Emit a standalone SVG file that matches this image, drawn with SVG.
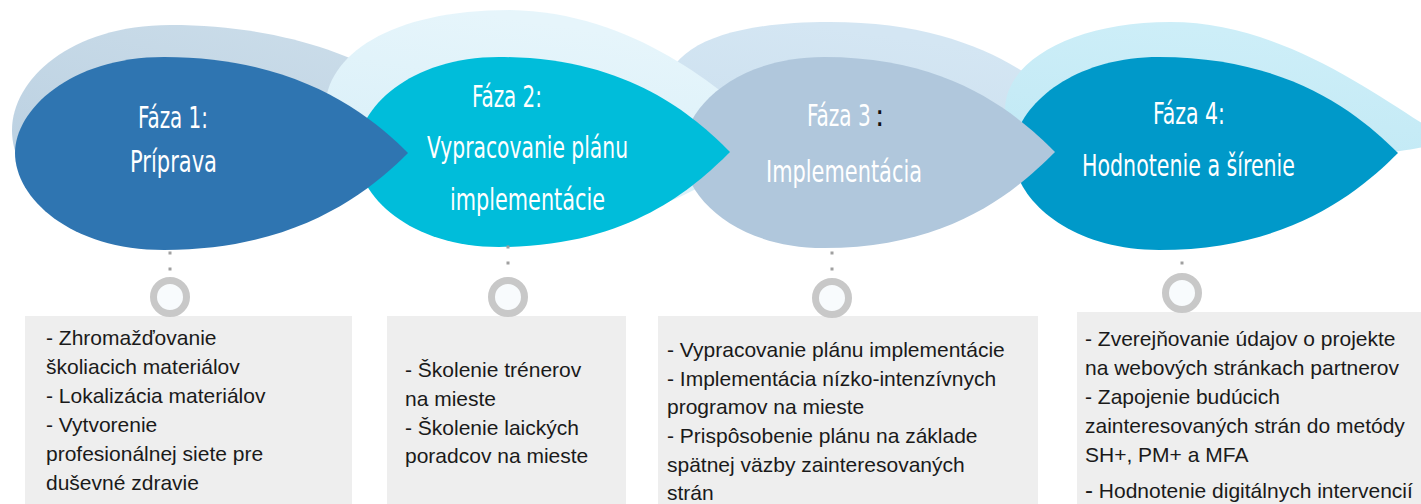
<svg xmlns="http://www.w3.org/2000/svg" width="1421" height="504" viewBox="0 0 1421 504">
<style>
.title{font-family:'Liberation Sans Narrow','DejaVu Sans Condensed','Liberation Sans',sans-serif;font-size:31px;fill:#ffffff;}
.body{font-family:'Liberation Sans',Arial,sans-serif;font-size:21px;fill:#1a1a1a;}
.box{fill:#eeeeee;}
.ring{fill:#f8fbfd;stroke:#c8c8c8;stroke-width:7;}
.dots{stroke:#a0a0a0;stroke-width:3;stroke-dasharray:3 13;}
</style>
<defs>
<linearGradient id="gb1" x1="0" y1="1" x2="0.6" y2="0"><stop offset="0" stop-color="#b7cddf"/><stop offset="1" stop-color="#cadce9"/></linearGradient>
<linearGradient id="gb2" x1="0" y1="1" x2="0.3" y2="0"><stop offset="0" stop-color="#d3edf7"/><stop offset="1" stop-color="#e6f5fb"/></linearGradient>
<linearGradient id="gb3" x1="0" y1="1" x2="0.3" y2="0"><stop offset="0" stop-color="#c6dbeb"/><stop offset="1" stop-color="#d4e6f3"/></linearGradient>
<linearGradient id="gb4" x1="0" y1="1" x2="0.3" y2="0"><stop offset="0" stop-color="#bfe8f4"/><stop offset="1" stop-color="#cdeef8"/></linearGradient>
</defs>
<rect width="1421" height="504" fill="#ffffff"/>
<g id="backdrops">
<path d="M 460 128 C 420 90 330 25 170 25 C 70 25 12 80 12 130 C 12 180 60 220 170 220 C 330 220 420 170 460 128 Z" fill="url(#gb1)"/>
<path d="M 1090 130 C 1050 85 980 22 830 22 C 730 22 665 45 665 95 C 665 150 720 220 840 220 C 980 220 1050 170 1090 130 Z" fill="url(#gb3)"/>
<path d="M 770 135 C 735 100 640 12 510 10 C 390 10 325 55 325 110 C 325 170 400 230 520 230 C 650 230 730 175 770 135 Z" fill="url(#gb2)"/>
<path d="M 1450 140 C 1390 107 1290 22 1170 22 C 1075 22 1005 60 1005 110 C 1005 150 1040 170 1100 170 L 1300 160 C 1380 155 1420 150 1450 140 Z" fill="url(#gb4)"/>
</g>
<g id="phase4">
<path d="M 1398 153 C 1360 115 1290 57 1159 57 C 1068 57 1013 110 1013 153 C 1013 198 1068 250 1159 250 C 1290 250 1360 191 1398 153 Z" fill="#0099c9"/>
<text class="title" x="1153" y="124" textLength="72" lengthAdjust="spacingAndGlyphs">Fáza 4:</text>
<text class="title" x="1082" y="176" textLength="213" lengthAdjust="spacingAndGlyphs">Hodnotenie a šírenie</text>
</g>
<g id="phase3">
<path d="M 1055 152 C 1017 114 951 57 824 57 C 736 57 683 108 683 152 C 683 197 736 248 824 248 C 951 248 1017 190 1055 152 Z" fill="#b0c7dc"/>
<text class="title" transform="translate(807 126) scale(0.72 1)" x="0" y="0">Fáza 3</text>
<text class="title" x="875" y="126" style="fill:#111111">:</text>
<text class="title" x="766" y="182" textLength="156" lengthAdjust="spacingAndGlyphs">Implementácia</text>
</g>
<g id="phase2">
<path d="M 730 152 C 692 114 626 57 499 57 C 410 57 357 108 357 152 C 357 196 410 247 499 247 C 626 247 692 190 730 152 Z" fill="#00bdda"/>
<text class="title" x="472" y="107" textLength="70" lengthAdjust="spacingAndGlyphs">Fáza 2:</text>
<text class="title" x="427" y="158" textLength="201" lengthAdjust="spacingAndGlyphs">Vypracovanie plánu</text>
<text class="title" x="450" y="210" textLength="155" lengthAdjust="spacingAndGlyphs">implementácie</text>
</g>
<g id="phase1">
<path d="M 408 153 C 370 115 298 57 164 57 C 70 57 15 110 15 153 C 15 198 70 250 164 250 C 298 250 370 191 408 153 Z" fill="#2f75b1"/>
<text class="title" x="138" y="128" textLength="70" lengthAdjust="spacingAndGlyphs">Fáza 1:</text>
<text class="title" x="130" y="172" textLength="87" lengthAdjust="spacingAndGlyphs">Príprava</text>
</g>
<g id="connectors">
<line class="dots" x1="170" y1="251.5" x2="170" y2="271"/>
<line class="dots" x1="508" y1="245.5" x2="508" y2="281"/>
<line class="dots" x1="832" y1="251.5" x2="832" y2="271"/>
<line class="dots" x1="1182" y1="261.5" x2="1182" y2="265"/>
</g>
<g id="details1">
<rect class="box" x="25" y="316" width="327" height="188"/>
<circle class="ring" cx="170" cy="297" r="16.5"/>
<text class="body" x="46" y="345">- Zhromažďovanie</text>
<text class="body" x="46" y="374">školiacich materiálov</text>
<text class="body" x="46" y="403">- Lokalizácia materiálov</text>
<text class="body" x="46" y="432">- Vytvorenie</text>
<text class="body" x="46" y="461">profesionálnej siete pre</text>
<text class="body" x="46" y="490">duševné zdravie</text>
</g>
<g id="details2">
<rect class="box" x="387" y="316" width="239" height="188"/>
<circle class="ring" cx="508" cy="297" r="16.5"/>
<text class="body" x="405" y="377">- Školenie trénerov</text>
<text class="body" x="405" y="406">na mieste</text>
<text class="body" x="405" y="435">- Školenie laických</text>
<text class="body" x="405" y="463">poradcov na mieste</text>
</g>
<g id="details3">
<rect class="box" x="658" y="316" width="380" height="188"/>
<circle class="ring" cx="832" cy="298" r="16.5"/>
<text class="body" x="667" y="357">- Vypracovanie plánu implementácie</text>
<text class="body" x="667" y="386">- Implementácia nízko-intenzívnych</text>
<text class="body" x="667" y="414">programov na mieste</text>
<text class="body" x="667" y="443">- Prispôsobenie plánu na základe</text>
<text class="body" x="667" y="472">spätnej väzby zainteresovaných</text>
<text class="body" x="667" y="500">strán</text>
</g>
<g id="details4">
<rect class="box" x="1077" y="312" width="344" height="192"/>
<circle class="ring" cx="1182" cy="293" r="16.5"/>
<text class="body" x="1085" y="346">- Zverejňovanie údajov o projekte</text>
<text class="body" x="1085" y="375">na webových stránkach partnerov</text>
<text class="body" x="1085" y="404">- Zapojenie budúcich</text>
<text class="body" x="1085" y="433">zainteresovaných strán do metódy</text>
<text class="body" x="1085" y="462">SH+, PM+ a MFA</text>
<text class="body" x="1085" y="498"><tspan font-size="24">-</tspan> Hodnotenie digitálnych intervencií</text>
</g>
</svg>
